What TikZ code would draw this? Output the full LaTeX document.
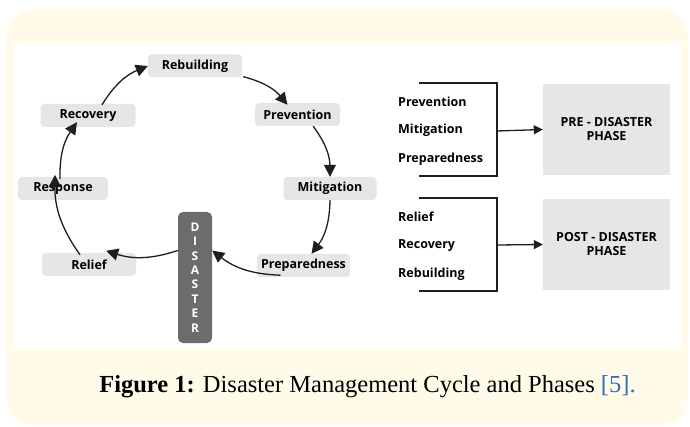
\documentclass[tikz,border=0pt]{standalone}
\usepackage{fontspec}
\setmainfont{Liberation Serif}
\newfontfamily\labelfont{Open Sans}
\usetikzlibrary{arrows.meta}
\definecolor{cream}{RGB}{255,251,232}
\definecolor{boxgray}{RGB}{230,230,230}
\definecolor{darkbox}{RGB}{108,108,108}
\definecolor{linecol}{RGB}{30,30,30}
\definecolor{refblue}{RGB}{45,110,185}
\tikzset{
  stagebox/.style={fill=boxgray, rounded corners=4pt, minimum height=23pt,
    inner sep=0pt, font=\labelfont\bfseries\fontsize{12.5}{14}\selectfont},
  phasebox/.style={fill=boxgray, minimum width=127pt, inner sep=0pt,
    align=center, font=\labelfont\bfseries\fontsize{12.5}{14}\selectfont},
  itemlabel/.style={anchor=west, inner sep=0pt,
    font=\labelfont\bfseries\fontsize{12.5}{14}\selectfont},
  cyclearrow/.style={draw=linecol, line width=1.3pt,
    -{Triangle[length=12pt,width=12pt]}, bend left=18},
  bracketline/.style={draw=linecol, line width=1.3pt},
  phasearrow/.style={draw=linecol, line width=1.3pt,
    -{Triangle[length=9pt,width=9pt]}}
}
\begin{document}
\begin{tikzpicture}[x=1pt,y=-1pt]
  \useasboundingbox (0,0) rectangle (690,427);
  % framed panel
  \fill[cream, rounded corners=26pt] (7,9) rectangle (688,425);
  \fill[white] (14,43) rectangle (681,348);

  % stages of the cycle
  \node[stagebox, minimum width=94pt] (rebuild) at (195,66) {Rebuilding};
  \node[stagebox, minimum width=85pt] (prevent) at (297.5,114.5) {Prevention};
  \node[stagebox, minimum width=95pt] (recover) at (88,115.5) {Recovery};
  \node[stagebox, minimum width=90pt] (respond) at (63,188.5) {Response};
  \node[stagebox, minimum width=93pt] (mitig) at (330,188.5) {Mitigation};
  \node[stagebox, minimum width=94pt] (relief) at (89,264.5) {Relief};
  \node[stagebox, minimum width=93pt] (prepare) at (303.5,265.5) {Preparedness};
  \node[fill=darkbox, rounded corners=5pt, minimum width=34pt,
        minimum height=131pt, inner sep=0pt, text=white, align=center,
        font=\labelfont\bfseries\fontsize{12}{14.4}\selectfont]
        (disaster) at (195,277.5) {D\\I\\S\\A\\S\\T\\E\\R};

  % cycle arrows
  \draw[cyclearrow] ([xshift=14pt,yshift=-1pt]recover.north) to (rebuild.west);
  \draw[cyclearrow] ([xshift=1pt,yshift=1pt]rebuild.south east) to
        ([xshift=-10pt,yshift=-2pt]prevent.north);
  \draw[cyclearrow] ([xshift=-27pt]prevent.south east) to (mitig.north);
  \draw[cyclearrow] (mitig.south) to ([xshift=8pt]prepare.north);
  \draw[cyclearrow] ([xshift=-23pt,yshift=2pt]prepare.south) to
        ([yshift=27pt]disaster.east);
  \draw[cyclearrow] ([yshift=27pt]disaster.west) to
        ([xshift=-30pt,yshift=2pt]relief.north east);
  \draw[cyclearrow] ([xshift=-9pt,yshift=-2pt]relief.north) to
        ([xshift=-8pt,yshift=2pt]respond.north);
  \draw[cyclearrow] ([xshift=-3pt,yshift=-2pt]respond.north) to
        ([xshift=-11pt,yshift=5pt]recover.south);

  % pre-disaster bracket
  \node[itemlabel] (lprev) at (398,101.5) {Prevention};
  \node[itemlabel] (lmitig) at (398,130.5) {Mitigation};
  \node[itemlabel] (lprep) at (398,159.5) {Preparedness};
  \coordinate (pa) at (419,83);
  \coordinate (pb) at (497,83);
  \coordinate (pc) at (497,176);
  \coordinate (pd) at (419,176);
  \coordinate (pm) at (497,131);
  \draw[bracketline] (pa) -- (pb) -- (pc) -- (pd);
  \node[phasebox, minimum height=91pt] (pre) at (606.5,129.5)
        {PRE - DISASTER\\PHASE};
  \draw[phasearrow] (pm) -- (pre.west);

  % post-disaster bracket
  \node[itemlabel] (lrel) at (398,216.5) {Relief};
  \node[itemlabel] (lrec) at (398,245.5) {Recovery};
  \node[itemlabel] (lreb) at (398,274.5) {Rebuilding};
  \coordinate (qa) at (419,198);
  \coordinate (qb) at (497,198);
  \coordinate (qc) at (497,291);
  \coordinate (qd) at (419,291);
  \coordinate (qm) at (497,245);
  \draw[bracketline] (qa) -- (qb) -- (qc) -- (qd);
  \node[phasebox, minimum height=91pt] (post) at (606.5,244.5)
        {POST - DISASTER\\PHASE};
  \draw[phasearrow] (qm) -- (post.west);

  % caption
  \node[inner sep=0pt, font=\fontsize{24.5}{28}\selectfont] (caption) at (367.5,387)
    {\textbf{Figure 1:} Disaster Management Cycle and Phases \textcolor{refblue}{[5].}};
\end{tikzpicture}
\end{document}
